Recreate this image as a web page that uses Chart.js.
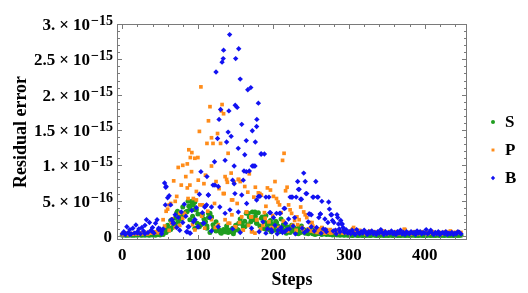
<!DOCTYPE html>
<html>
<head>
<meta charset="utf-8">
<title>Residual error</title>
<script src="https://cdn.jsdelivr.net/npm/chart.js"></script>
<style>
  html, body { margin: 0; padding: 0; background: #fff; }
</style>
</head>
<body>
<canvas id="residual" width="528" height="293"></canvas>
<script>
// values are in units of 1e-16
var steps = [
  0, 2, 4, 6, 8, 10, 12, 14, 16, 18,
  20, 22, 24, 26, 28, 30, 32, 34, 36, 38,
  40, 42, 44, 46, 48, 50, 52, 54, 56, 58,
  60, 62, 64, 66, 68, 70, 72, 74, 76, 78,
  80, 82, 84, 86, 88, 90, 92, 94, 96, 98,
  100, 102, 104, 106, 108, 110, 112, 114, 116, 118,
  120, 122, 124, 126, 128, 130, 132, 134, 136, 138,
  140, 142, 144, 146, 148, 150, 152, 154, 156, 158,
  160, 162, 164, 166, 168, 170, 172, 174, 176, 178,
  180, 182, 184, 186, 188, 190, 192, 194, 196, 198,
  200, 202, 204, 206, 208, 210, 212, 214, 216, 218,
  220, 222, 224, 226, 228, 230, 232, 234, 236, 238,
  240, 242, 244, 246, 248, 250, 252, 254, 256, 258,
  260, 262, 264, 266, 268, 270, 272, 274, 276, 278,
  280, 282, 284, 286, 288, 290, 292, 294, 296, 298,
  300, 302, 304, 306, 308, 310, 312, 314, 316, 318,
  320, 322, 324, 326, 328, 330, 332, 334, 336, 338,
  340, 342, 344, 346, 348, 350, 352, 354, 356, 358,
  360, 362, 364, 366, 368, 370, 372, 374, 376, 378,
  380, 382, 384, 386, 388, 390, 392, 394, 396, 398,
  400, 402, 404, 406, 408, 410, 412, 414, 416, 418,
  420, 422, 424, 426, 428, 430, 432, 434, 436, 438,
  440, 442, 444, 446, 448
];

var sVals = [
  0.1, 0.2, 0.1, 0.15, 0.1, 0.2, 0.1, 0.15, 0.1, 0.2,
  0.1, 0.2, 0.15, 0.1, 0.2, 0.1, 0.25, 0.15, 0.1, 0.2,
  0.15, 0.2, 0.1, 0.25, 0.2, 0.15, 0.3, 0.2, 0.9, 0.5,
  1.5, 0.8, 2.2, 1.2, 1.8, 2.5, 3.3, 2.0, 2.8, 2.4,
  4.1, 2.9, 3.4, 3.5, 4.2, 3.8, 4.9, 4.4, 4.8, 3.7,
  3.1, 1.3, 1.6, 3.0, 2.4, 2.0, 1.1, 2.6, 3.2, 2.7,
  1.6, 1.0, 0.7, 1.2, 0.85, 0.5, 0.7, 0.9, 0.6, 1.4,
  0.5, 0.8, 0.6, 1.1, 0.7, 1.5, 0.9, 1.8, 2.4, 1.8,
  1.3, 2.1, 3.2, 1.6, 2.7, 2.0, 3.4, 2.3, 2.8, 1.8,
  3.3, 1.4, 2.5, 1.1, 2.0, 2.9, 1.5, 0.9, 2.2, 1.7,
  1.2, 0.8, 1.9, 1.4, 0.6, 2.4, 1.0, 1.6, 0.7, 1.3,
  0.9, 0.5, 1.5, 0.7, 1.1, 0.4, 0.8, 1.2, 0.5, 0.6,
  0.9, 0.4, 0.7, 0.3, 0.6, 0.5, 0.3, 0.8, 0.4, 0.3,
  0.5, 0.3, 0.2, 0.4, 0.3, 0.2, 0.35, 0.2, 0.3, 0.15,
  0.2, 0.3, 0.15, 0.2, 0.1, 0.25, 0.15, 0.1, 0.2, 0.1,
  0.1, 0.15, 0.05, 0.1, 0.2, 0.1, 0.05, 0.15, 0.1, 0.05,
  0.1, 0.05, 0.15, 0.1, 0.05, 0.1, 0.2, 0.1, 0.05, 0.1,
  0.05, 0.1, 0.15, 0.05, 0.1, 0.1, 0.05, 0.15, 0.1, 0.05,
  0.1, 0.15, 0.05, 0.1, 0.05, 0.1, 0.15, 0.05, 0.1, 0.1,
  0.05, 0.1, 0.15, 0.1, 0.05, 0.1, 0.05, 0.15, 0.1, 0.05,
  0.1, 0.05, 0.1, 0.15, 0.05, 0.1, 0.1, 0.05, 0.15, 0.1,
  0.05, 0.1, 0.1, 0.05, 0.15, 0.1, 0.05, 0.1, 0.1, 0.05,
  0.1, 0.15, 0.05, 0.1, 0.1
];

var pVals = [
  0.3, 0.2, 0.4, 0.3, 0.2, 0.35, 0.3, 0.25, 0.4, 0.3,
  0.35, 0.3, 0.45, 0.3, 0.4, 0.5, 0.35, 0.3, 0.45, 0.4,
  0.5, 0.4, 0.6, 0.45, 0.55, 0.5, 0.7, 2.3, 1.4, 3.5,
  3.8, 4.4, 4.6, 2.4, 7.8, 4.9, 5.6, 9.7, 3.2, 7.2,
  10.0, 3.2, 8.4, 10.2, 12.2, 11.1, 11.8, 5.3, 11.0, 5.1,
  11.1, 14.8, 21.1, 4.4, 7.4, 8.6, 13.1, 16.3, 18.3, 13.9,
  13.1, 4.6, 7.7, 14.5, 6.7, 13.1, 18.6, 17.3, 8.4, 8.0,
  11.7, 1.8, 8.9, 5.1, 7.6, 1.3, 4.6, 8.0, 7.7, 2.7,
  0.85, 7.0, 3.4, 6.2, 8.8, 2.7, 0.6, 5.5, 6.9, 2.3,
  6.1, 6.0, 5.8, 1.5, 3.3, 4.2, 6.8, 2.0, 6.5, 1.2,
  5.6, 7.7, 5.3, 4.8, 4.4, 3.3, 10.7, 11.7, 6.4, 6.9,
  4.4, 3.7, 3.2, 1.5, 2.2, 0.8, 1.6, 2.3, 4.1, 1.2,
  3.4, 3.0, 2.6, 1.0, 1.9, 0.7, 1.4, 0.6, 1.1, 0.5,
  0.8, 0.5, 1.2, 0.6, 0.4, 0.9, 0.5, 0.7, 0.4, 0.6,
  0.5, 0.8, 0.4, 0.6, 0.5, 0.7, 0.4, 0.5, 0.6, 0.4,
  0.5, 0.7, 0.9, 1.2, 0.6, 0.4, 0.5, 0.8, 0.4, 0.6,
  0.5, 0.3, 0.6, 0.4, 0.7, 0.5, 0.4, 0.6, 0.3, 0.5,
  0.6, 0.4, 0.5, 0.7, 0.4, 0.3, 0.5, 0.6, 0.4, 0.5,
  0.4, 0.6, 0.5, 0.3, 0.5, 0.4, 0.6, 0.9, 0.5, 0.4,
  0.5, 0.3, 0.4, 0.6, 0.5, 0.4, 0.3, 0.5, 0.6, 0.4,
  0.4, 0.5, 0.3, 0.5, 0.4, 0.6, 0.5, 0.4, 0.3, 0.5,
  0.5, 0.4, 0.3, 0.5, 0.6, 0.4, 0.5, 0.7, 0.4, 0.5,
  0.4, 0.5, 0.6, 0.4, 0.5
];

var bVals = [
  0.3, 0.6, 0.2, 1.3, 0.5, 0.9, 0.3, 1.1, 0.4, 1.55,
  0.6, 1.0, 0.3, 1.2, 0.7, 1.5, 2.3, 0.5, 1.9, 0.8,
  1.2, 0.4, 1.8, 2.3, 0.9, 1.0, 0.6, 1.0, 7.5, 7.0,
  5.4, 5.7, 4.4, 2.3, 1.8, 3.0, 1.2, 2.6, 0.8, 3.4,
  1.9, 4.5, 2.8, 0.6, 1.3, 0.4, 3.6, 2.0, 2.3, 4.0,
  1.3, 5.9, 9.1, 3.3, 1.8, 4.2, 8.4, 5.8, 2.6, 4.1,
  7.2, 10.5, 23.2, 13.8, 16.5, 17.9, 24.6, 26.3, 10.7, 13.3,
  14.7, 28.5, 14.1, 7.9, 9.9, 25.1, 18.2, 26.5, 22.2, 15.8,
  7.9, 11.5, 13.5, 20.7, 9.2, 21.0, 14.9, 9.9, 13.3, 16.5,
  18.8, 5.6, 11.6, 2.0, 11.6, 5.5, 1.0, 5.5, 3.3, 0.6,
  2.6, 1.5, 3.2, 0.8, 3.2, 1.2, 0.5, 3.9, 1.8, 0.9,
  2.4, 5.5, 5.5, 1.4, 2.6, 5.5, 7.7, 6.6, 5.2, 1.1,
  8.9, 7.7, 6.0, 2.0, 3.1, 1.3, 5.5, 0.7, 7.7, 5.5,
  2.6, 3.1, 4.9, 1.0, 2.4, 0.6, 1.9, 3.8, 3.0, 2.2,
  1.9, 0.8, 3.0, 1.7, 0.6, 1.7, 1.2, 0.5, 0.9, 0.4,
  0.6, 0.3, 0.8, 0.4, 0.2, 0.9, 0.5, 0.3, 0.6, 0.4,
  0.8, 0.5, 0.2, 0.6, 0.4, 0.7, 0.3, 0.5, 0.2, 0.6,
  0.4, 0.9, 0.5, 0.2, 0.6, 0.3, 0.5, 0.4, 0.7, 0.3,
  0.5, 0.2, 0.6, 0.4, 0.8, 0.3, 0.5, 0.2, 0.6, 0.4,
  0.3, 0.6, 0.4, 0.5, 0.2, 0.7, 0.4, 0.6, 0.3, 0.5,
  0.4, 0.9, 0.3, 0.5, 0.8, 0.4, 0.2, 0.5, 0.3, 0.6,
  0.2, 0.4, 0.5, 0.3, 0.6, 0.2, 0.4, 0.3, 0.5, 0.2,
  0.4, 0.3, 0.6, 0.5, 0.3
];

// extra points off the 2-step grid, [step, value]
var sExtra = [
  [87, 4.9], [91.6, 4.4], [85, 3.4], [96, 3.7], [89.4, 2.3], [96, 1.1], [105, 3.0], [114, 3.2],
  [118, 2.7], [109.3, 2.0], [102.7, 1.6], [127, 0.85], [136, 0.6], [144.6, 0.6], [153.5, 0.85],
  [162, 1.3], [166.7, 3.2], [175.5, 3.4], [171, 2.3], [177.7, 1.8], [158, 1.8], [131, 0.4],
  [139, 0.9], [147, 0.3], [121, 1.1], [116, 0.5], [124, 2.0], [112, 1.4], [93, 2.8], [99, 1.8],
  [81, 3.1], [76, 2.9], [73, 3.5], [70, 1.6], [64, 0.9], [59, 1.2], [185, 2.7], [189, 1.0],
  [193, 1.8], [197, 0.6], [203, 2.1], [209, 0.9], [213, 1.6], [217, 0.4], [223, 1.2], [229, 0.9],
  [233, 0.3], [237, 1.4], [243, 0.5], [249, 0.9], [255, 0.2], [263, 0.7], [271, 0.4]
];

var pExtra = [
  [131, 17.7], [118, 9.9], [133.6, 6.0], [144.6, 5.1], [134.8, 6.0], [139, 7.6], [153.4, 8.0],
  [100.5, 7.9], [89.4, 7.2], [98, 6.3], [87, 5.3], [102.7, 4.4], [164.5, 3.4], [171, 2.7],
  [177.7, 2.3], [136, 2.3], [140, 1.8], [149, 1.3], [160, 0.85], [171, 0.6], [175.5, 0.4],
  [118, 2.3], [127, 1.6], [109, 1.1], [96, 0.85], [91.6, 9.1], [86, 6.8], [80, 2.5], [76, 1.5],
  [70, 1.2], [65, 1.8], [62, 0.8], [83, 3.0], [93, 1.6], [105, 2.8], [113, 3.5], [123, 1.2],
  [145, 3.0], [155, 1.9], [167, 1.5], [183, 1.0], [189, 2.5], [199, 2.9], [207, 1.2], [213, 2.1],
  [219, 0.7], [225, 1.5], [231, 2.7], [239, 0.9], [251, 1.9], [261, 1.0], [275, 0.9], [305, 1.0],
  [373, 0.95]
];

var bExtra = [
  [133.5, 25.1], [141, 17.7], [149.4, 18.5], [177.7, 15.5], [175.5, 9.9], [183.4, 11.6], [153.4, 12.4],
  [148, 7.4], [149, 6.0], [158, 5.8], [161, 9.2], [164, 9.1], [172, 9.9], [122.5, 7.2], [127, 7.0],
  [129, 4.1], [113.7, 5.8], [109, 4.1], [111.5, 4.4], [136, 3.2], [142.4, 3.7], [153.5, 3.4],
  [164.5, 4.6], [177.7, 5.1], [180, 5.6], [171, 1.1], [181, 0.6], [127, 1.3], [100.5, 1.3], [87, 1.3],
  [85, 0.6], [89.4, 0.4], [57.5, 6.9], [57, 4.4], [65, 2.3], [67, 1.8], [96, 2.3], [107, 1.8],
  [156, 0.5], [146, 1.0], [118, 0.7], [195, 3.3], [190, 0.4], [205, 0.3], [215, 0.6], [229, 0.3],
  [241, 0.5], [263, 0.4], [283, 0.3], [233, 6.6], [243, 6.0], [253, 5.5], [259, 5.5], [225, 5.5],
  [237, 5.2], [273, 4.8], [277, 3.0], [285, 2.6], [289, 2.2], [291, 1.7], [247, 3.1], [250, 3.0],
  [262, 3.1], [209, 3.2], [215, 3.9], [197, 0.9], [211, 0.7], [221, 1.0], [245, 0.8], [257, 1.2],
  [269, 0.9], [279, 0.7], [287, 1.0], [293, 0.8], [10, 0.2], [20, 0.4], [30, 0.3], [40, 0.6],
  [48, 1.1], [52, 0.3]
];

var xTicks = [0, 100, 200, 300, 400];
var yTicks = [0, 5, 10, 15, 20, 25, 30];
var yTickMant = ['0', '5.', '1.', '1.5', '2.', '2.5', '3.'];
var yTickExp = ['', '\u221216', '\u221215', '\u221215', '\u221215', '\u221215', '\u221215'];

var serif = "'Liberation Serif', 'Times New Roman', serif";
var green = '#1f9d1f';
var orange = '#ff8c1a';
var blue = '#1212f2';

function toPoints(vals, extra) {
  var pts = vals.map(function (v, i) { return { x: steps[i], y: v }; });
  extra.forEach(function (p) { pts.push({ x: p[0], y: p[1] }); });
  return pts;
}

// mathematica style frame, inward ticks, y labels with exponents, legend
var framePlugin = {
  id: 'frame',
  afterDraw: function (chart) {
    var ctx = chart.ctx, a = chart.chartArea;
    var xs = chart.scales.x, ys = chart.scales.y;
    ctx.save();
    ctx.strokeStyle = '#7a7a7a';
    ctx.lineWidth = 1;
    ctx.strokeRect(a.left + 0.5, a.top + 0.5, a.right - a.left - 1, a.bottom - a.top - 1);
    ctx.beginPath();
    for (var v = 0; v <= 440; v += 20) {
      var px = Math.round(xs.getPixelForValue(v)) + 0.5;
      var len = v % 100 === 0 ? 5 : 3;
      ctx.moveTo(px, a.bottom); ctx.lineTo(px, a.bottom - len);
      ctx.moveTo(px, a.top); ctx.lineTo(px, a.top + len);
    }
    for (var t = 0; t <= 30; t++) {
      var py = Math.round(ys.getPixelForValue(t)) + 0.5;
      var l = t % 5 === 0 ? 5 : 3;
      ctx.moveTo(a.left, py); ctx.lineTo(a.left + l, py);
      ctx.moveTo(a.right, py); ctx.lineTo(a.right - l, py);
    }
    ctx.stroke();

    // y tick labels
    ctx.fillStyle = '#000';
    ctx.textAlign = 'right';
    ctx.textBaseline = 'alphabetic';
    var xr = a.left - 4;
    yTicks.forEach(function (val, i) {
      var y = ys.getPixelForValue(val);
      ctx.font = 'bold 17px ' + serif;
      if (!yTickExp[i]) {
        ctx.fillText(yTickMant[i], xr - 1, y + 6);
        return;
      }
      ctx.font = 'bold 14px ' + serif;
      var ew = ctx.measureText(yTickExp[i]).width;
      ctx.fillText(yTickExp[i], xr, y + 1);
      ctx.font = 'bold 17px ' + serif;
      var x = xr - ew - 1;
      ctx.fillText('10', x, y + 6);
      x -= ctx.measureText('10').width + 4;
      ctx.fillText('\u00d7', x, y + 6);
      x -= ctx.measureText('\u00d7').width + 4;
      ctx.fillText(yTickMant[i], x, y + 6);
    });

    // legend
    var ly = [122, 150, 178];
    chart.data.datasets.forEach(function (ds, i) {
      ctx.fillStyle = ds.backgroundColor;
      Chart.helpers.drawPoint(ctx, { pointStyle: ds.pointStyle, radius: ds.pointRadius * 0.8, rotation: 0, borderWidth: 0 }, 493, ly[i]);
      ctx.fillStyle = '#000';
      ctx.font = 'bold 17px ' + serif;
      ctx.textAlign = 'left';
      ctx.textBaseline = 'middle';
      ctx.fillText(ds.label, 505, ly[i] + 1);
    });
    ctx.restore();
  }
};

var ctx = document.getElementById('residual').getContext('2d');
var chart = new Chart(ctx, {
  type: 'scatter',
  data: {
    datasets: [{
      label: 'S',
      data: toPoints(sVals, sExtra),
      pointStyle: 'circle',
      pointRadius: 2.5,
      pointBorderWidth: 0,
      backgroundColor: green,
      order: 2
    }, {
      label: 'P',
      data: toPoints(pVals, pExtra),
      pointStyle: 'rect',
      pointRadius: 2.6,
      pointBorderWidth: 0,
      backgroundColor: orange,
      order: 1
    }, {
      label: 'B',
      data: toPoints(bVals, bExtra),
      pointStyle: 'rectRot',
      pointRadius: 2.7,
      pointBorderWidth: 0,
      backgroundColor: blue,
      order: 0
    }]
  },
  options: {
    responsive: false,
    animation: false,
    layout: { padding: { top: 24, right: 61, left: 0, bottom: 0 } },
    plugins: {
      legend: { display: false },
      tooltip: { enabled: false }
    },
    scales: {
      x: {
        type: 'linear',
        min: -7,
        max: 456,
        grid: { display: false, drawTicks: false },
        border: { display: false },
        afterBuildTicks: function (s) { s.ticks = xTicks.map(function (v) { return { value: v }; }); },
        afterFit: function (s) { s.height = 53; },
        ticks: {
          font: { family: serif, weight: 'bold', size: 17 },
          color: '#000',
          padding: 5,
          maxRotation: 0
        },
        title: {
          display: true,
          text: 'Steps',
          font: { family: serif, weight: 'bold', size: 18 },
          color: '#000',
          padding: { top: 0, bottom: 2 }
        }
      },
      y: {
        type: 'linear',
        min: -0.57,
        max: 30,
        grid: { display: false, drawTicks: false },
        border: { display: false },
        afterBuildTicks: function (s) { s.ticks = yTicks.map(function (v) { return { value: v }; }); },
        afterFit: function (s) { s.width = 117; },
        ticks: { display: false },
        title: {
          display: true,
          text: 'Residual error',
          font: { family: serif, weight: 'bold', size: 18 },
          color: '#000',
          padding: { top: 11, bottom: 0 }
        }
      }
    }
  },
  plugins: [framePlugin]
});
</script>
</body>
</html>
